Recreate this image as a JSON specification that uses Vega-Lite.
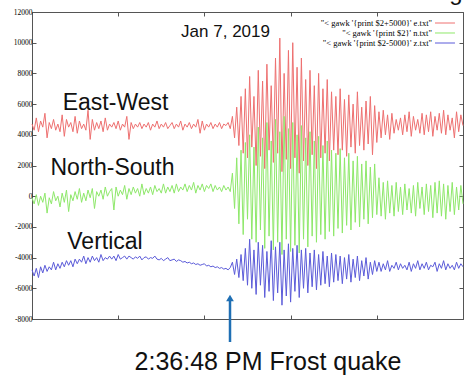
{
  "$schema": "https://vega.github.io/schema/vega-lite/v6.json",
  "width": 431,
  "height": 307,
  "autosize": {"type": "none"},
  "padding": {"left": 32, "top": 12, "right": 11, "bottom": 66},
  "background": "white",
  "config": {
    "view": {"stroke": "#555555", "strokeWidth": 1},
    "axis": {"grid": false, "domain": false, "ticks": true, "tickSize": -4, "tickColor": "#555555", "labelFont": "Liberation Serif", "labelFontSize": 7.5, "labelColor": "#000000", "title": null}
  },
  "data": {"values": [
    {"t":0,"e":4700,"n":-100,"z":-4800},
    {"t":2.5,"e":4300,"n":-500,"z":-5200},
    {"t":5,"e":5100,"n":100,"z":-4700},
    {"t":7.5,"e":4200,"n":-600,"z":-5300},
    {"t":10,"e":4900,"n":0,"z":-4600},
    {"t":12.5,"e":4500,"n":-400,"z":-5000},
    {"t":15,"e":5400,"n":200,"z":-4500},
    {"t":17.5,"e":3800,"n":-1100,"z":-4900},
    {"t":20,"e":4800,"n":-100,"z":-4600},
    {"t":22.5,"e":4400,"n":-500,"z":-4800},
    {"t":25,"e":5000,"n":300,"z":-4300},
    {"t":27.5,"e":4300,"n":-300,"z":-4800},
    {"t":30,"e":4700,"n":0,"z":-4400},
    {"t":32.5,"e":4200,"n":-700,"z":-4700},
    {"t":35,"e":5300,"n":200,"z":-4300},
    {"t":37.5,"e":3900,"n":-400,"z":-4600},
    {"t":40,"e":5000,"n":400,"z":-4200},
    {"t":42.5,"e":4500,"n":-1000,"z":-4500},
    {"t":45,"e":4800,"n":100,"z":-4200},
    {"t":47.5,"e":4200,"n":-300,"z":-4600},
    {"t":50,"e":5200,"n":300,"z":-4100},
    {"t":52.5,"e":4100,"n":-200,"z":-4400},
    {"t":55,"e":4900,"n":500,"z":-4100},
    {"t":57.5,"e":4400,"n":-400,"z":-4300},
    {"t":60,"e":4700,"n":200,"z":-3900},
    {"t":62.5,"e":4300,"n":-300,"z":-4400},
    {"t":65,"e":5600,"n":400,"z":-4000},
    {"t":67.5,"e":3700,"n":-100,"z":-4300},
    {"t":70,"e":5000,"n":500,"z":-3900},
    {"t":72.5,"e":4300,"n":-800,"z":-4200},
    {"t":75,"e":4800,"n":300,"z":-4000},
    {"t":77.5,"e":4400,"n":0,"z":-4300},
    {"t":80,"e":4900,"n":400,"z":-3800},
    {"t":82.5,"e":4200,"n":-200,"z":-4200},
    {"t":85,"e":5100,"n":600,"z":-4000},
    {"t":87.5,"e":4300,"n":0,"z":-4100},
    {"t":90,"e":4700,"n":300,"z":-3900},
    {"t":92.5,"e":4500,"n":500,"z":-4100},
    {"t":95,"e":4800,"n":-900,"z":-3900},
    {"t":97.5,"e":4400,"n":600,"z":-4200},
    {"t":100,"e":4900,"n":0,"z":-3800},
    {"t":102.5,"e":4300,"n":400,"z":-4100},
    {"t":105,"e":4700,"n":100,"z":-4000},
    {"t":107.5,"e":4500,"n":700,"z":-3900},
    {"t":110,"e":5200,"n":-200,"z":-4100},
    {"t":112.5,"e":3700,"n":500,"z":-3900},
    {"t":115,"e":4800,"n":100,"z":-4000},
    {"t":117.5,"e":4400,"n":600,"z":-4100},
    {"t":120,"e":4700,"n":200,"z":-3950},
    {"t":122.5,"e":4500,"n":500,"z":-4050},
    {"t":125,"e":4800,"n":0,"z":-3900},
    {"t":127.5,"e":4400,"n":800,"z":-4150},
    {"t":130,"e":4700,"n":100,"z":-4000},
    {"t":132.5,"e":4500,"n":500,"z":-3950},
    {"t":135,"e":4800,"n":200,"z":-4100},
    {"t":137.5,"e":4300,"n":600,"z":-4000},
    {"t":140,"e":4700,"n":100,"z":-4050},
    {"t":142.5,"e":4500,"n":700,"z":-3900},
    {"t":145,"e":4900,"n":300,"z":-4100},
    {"t":147.5,"e":4400,"n":500,"z":-4150},
    {"t":150,"e":4700,"n":200,"z":-4050},
    {"t":152.5,"e":4500,"n":800,"z":-4200},
    {"t":155,"e":4800,"n":200,"z":-4100},
    {"t":157.5,"e":4400,"n":600,"z":-4000},
    {"t":160,"e":4600,"n":300,"z":-4200},
    {"t":162.5,"e":4800,"n":700,"z":-4150},
    {"t":165,"e":4400,"n":200,"z":-4100},
    {"t":167.5,"e":4700,"n":800,"z":-4250},
    {"t":170,"e":4500,"n":300,"z":-4150},
    {"t":172.5,"e":4900,"n":600,"z":-4200},
    {"t":175,"e":4300,"n":400,"z":-4300},
    {"t":177.5,"e":4700,"n":800,"z":-4250},
    {"t":180,"e":4500,"n":300,"z":-4350},
    {"t":182.5,"e":4800,"n":700,"z":-4300},
    {"t":185,"e":4400,"n":400,"z":-4400},
    {"t":187.5,"e":4700,"n":900,"z":-4350},
    {"t":190,"e":4500,"n":200,"z":-4450},
    {"t":192.5,"e":5000,"n":700,"z":-4400},
    {"t":195,"e":4100,"n":400,"z":-4500},
    {"t":197.5,"e":4900,"n":800,"z":-4450},
    {"t":200,"e":4300,"n":300,"z":-4400},
    {"t":202.5,"e":4700,"n":700,"z":-4550},
    {"t":205,"e":4500,"n":500,"z":-4500},
    {"t":207.5,"e":4800,"n":800,"z":-4600},
    {"t":210,"e":4400,"n":300,"z":-4550},
    {"t":212.5,"e":4700,"n":700,"z":-4650},
    {"t":215,"e":4500,"n":400,"z":-4600},
    {"t":217.5,"e":4800,"n":600,"z":-4700},
    {"t":220,"e":4400,"n":300,"z":-4650},
    {"t":222.5,"e":4700,"n":700,"z":-4750},
    {"t":225,"e":4600,"n":400,"z":-4700},
    {"t":227.5,"e":4800,"n":600,"z":-4800},
    {"t":230,"e":4400,"n":300,"z":-4650},
    {"t":232.5,"e":5200,"n":1500,"z":-4300},
    {"t":235,"e":3800,"n":-800,"z":-5100},
    {"t":237.5,"e":5800,"n":2500,"z":-4100},
    {"t":240,"e":3300,"n":-1800,"z":-5300},
    {"t":242.5,"e":6500,"n":3000,"z":-3800},
    {"t":245,"e":2800,"n":-2500,"z":-5500},
    {"t":247.5,"e":7000,"n":3500,"z":-3400},
    {"t":250,"e":2500,"n":-1500,"z":-5800},
    {"t":252.5,"e":7800,"n":4000,"z":-2800},
    {"t":255,"e":3200,"n":-2800,"z":-6000},
    {"t":257.5,"e":6500,"n":3200,"z":-3500},
    {"t":260,"e":2000,"n":-3000,"z":-6400},
    {"t":262.5,"e":8200,"n":4500,"z":-3000},
    {"t":265,"e":2600,"n":-2200,"z":-5800},
    {"t":267.5,"e":7500,"n":3800,"z":-3200},
    {"t":270,"e":1800,"n":-3400,"z":-6600},
    {"t":272.5,"e":8600,"n":4800,"z":-3600},
    {"t":275,"e":3000,"n":-2600,"z":-6200},
    {"t":277.5,"e":7200,"n":3600,"z":-2900},
    {"t":280,"e":2200,"n":-3500,"z":-6800},
    {"t":282.5,"e":9000,"n":5000,"z":-3300},
    {"t":285,"e":2800,"n":-3000,"z":-6300},
    {"t":287.5,"e":10300,"n":4200,"z":-3000},
    {"t":290,"e":1600,"n":-3800,"z":-7100},
    {"t":292.5,"e":8000,"n":5200,"z":-3500},
    {"t":295,"e":2400,"n":-2800,"z":-6500},
    {"t":297.5,"e":9500,"n":4400,"z":-3100},
    {"t":300,"e":1800,"n":-3600,"z":-6900},
    {"t":302.5,"e":10000,"n":4800,"z":-3400},
    {"t":305,"e":2500,"n":-3200,"z":-6200},
    {"t":307.5,"e":8400,"n":4000,"z":-3200},
    {"t":310,"e":1500,"n":-3700,"z":-6600},
    {"t":312.5,"e":9000,"n":4600,"z":-3500},
    {"t":315,"e":2300,"n":-2800,"z":-6000},
    {"t":317.5,"e":7600,"n":3800,"z":-3400},
    {"t":320,"e":2000,"n":-3300,"z":-6300},
    {"t":322.5,"e":8200,"n":4200,"z":-3700},
    {"t":325,"e":2700,"n":-2600,"z":-5900},
    {"t":327.5,"e":7200,"n":3600,"z":-3500},
    {"t":330,"e":1800,"n":-3000,"z":-6100},
    {"t":332.5,"e":8000,"n":3900,"z":-3800},
    {"t":335,"e":2500,"n":-2500,"z":-5800},
    {"t":337.5,"e":7000,"n":3300,"z":-3600},
    {"t":340,"e":2800,"n":-2800,"z":-5700},
    {"t":342.5,"e":7600,"n":3600,"z":-3900},
    {"t":345,"e":2300,"n":-2300,"z":-5900},
    {"t":347.5,"e":6800,"n":3000,"z":-3700},
    {"t":350,"e":3000,"n":-2600,"z":-5600},
    {"t":352.5,"e":6500,"n":2800,"z":-3800},
    {"t":355,"e":2700,"n":-2100,"z":-5500},
    {"t":357.5,"e":7000,"n":3100,"z":-3900},
    {"t":360,"e":3000,"n":-2400,"z":-5700},
    {"t":362.5,"e":6300,"n":2500,"z":-4000},
    {"t":365,"e":2600,"n":-1900,"z":-5400},
    {"t":367.5,"e":6600,"n":2800,"z":-3800},
    {"t":370,"e":3200,"n":-2200,"z":-5600},
    {"t":372.5,"e":6000,"n":2300,"z":-4100},
    {"t":375,"e":2800,"n":-1700,"z":-5300},
    {"t":377.5,"e":6800,"n":2600,"z":-3900},
    {"t":380,"e":3300,"n":-2000,"z":-5500},
    {"t":382.5,"e":5800,"n":2100,"z":-4200},
    {"t":385,"e":3000,"n":-1500,"z":-5200},
    {"t":387.5,"e":6200,"n":2300,"z":-4000},
    {"t":390,"e":3400,"n":-1800,"z":-5400},
    {"t":392.5,"e":6500,"n":1900,"z":-4300},
    {"t":395,"e":2700,"n":-1400,"z":-5100},
    {"t":397.5,"e":5900,"n":2100,"z":-4200},
    {"t":400,"e":3500,"n":-1200,"z":-4900},
    {"t":402.5,"e":5500,"n":1200,"z":-4300},
    {"t":405,"e":3800,"n":-1300,"z":-4900},
    {"t":407.5,"e":5600,"n":900,"z":-4400},
    {"t":410,"e":4000,"n":-1500,"z":-4800},
    {"t":412.5,"e":5300,"n":1000,"z":-4200},
    {"t":415,"e":3700,"n":-1100,"z":-4900},
    {"t":417.5,"e":5400,"n":700,"z":-4500},
    {"t":420,"e":4100,"n":-1300,"z":-4700},
    {"t":422.5,"e":5000,"n":900,"z":-4300},
    {"t":425,"e":4300,"n":-1000,"z":-4800},
    {"t":427.5,"e":5100,"n":600,"z":-4400},
    {"t":430,"e":4000,"n":-1200,"z":-4700},
    {"t":432.5,"e":5300,"n":800,"z":-4500},
    {"t":435,"e":4200,"n":-900,"z":-4800},
    {"t":437.5,"e":5500,"n":500,"z":-4300},
    {"t":440,"e":3900,"n":-1100,"z":-4900},
    {"t":442.5,"e":5200,"n":700,"z":-4400},
    {"t":445,"e":4300,"n":-1300,"z":-4700},
    {"t":447.5,"e":5000,"n":900,"z":-4200},
    {"t":450,"e":4100,"n":-800,"z":-4800},
    {"t":452.5,"e":5400,"n":600,"z":-4400},
    {"t":455,"e":4000,"n":-1200,"z":-4700},
    {"t":457.5,"e":5300,"n":800,"z":-4300},
    {"t":460,"e":4200,"n":-1000,"z":-4800},
    {"t":462.5,"e":5500,"n":700,"z":-4500},
    {"t":465,"e":3900,"n":-1400,"z":-4600},
    {"t":467.5,"e":5200,"n":900,"z":-4300},
    {"t":470,"e":4300,"n":-1100,"z":-4900},
    {"t":472.5,"e":5400,"n":1000,"z":-4400},
    {"t":475,"e":4100,"n":-1300,"z":-4700},
    {"t":477.5,"e":5600,"n":800,"z":-4200},
    {"t":480,"e":4000,"n":-1500,"z":-4800},
    {"t":482.5,"e":5300,"n":700,"z":-4400},
    {"t":485,"e":4300,"n":-1000,"z":-4700},
    {"t":487.5,"e":5100,"n":900,"z":-4500},
    {"t":490,"e":3800,"n":-1200,"z":-4800},
    {"t":492.5,"e":5500,"n":600,"z":-4300},
    {"t":495,"e":4200,"n":-900,"z":-4700},
    {"t":497.5,"e":5300,"n":700,"z":-4400},
    {"t":500,"e":4600,"n":-500,"z":-4600}
  ]},
  "layer": [
    {
      "mark": {"type": "line", "strokeWidth": 1, "interpolate": "linear"},
      "encoding": {
        "x": {"field": "t", "type": "quantitative", "scale": {"domain": [0, 500], "nice": false, "zero": false}, "axis": {"orient": "bottom", "values": [0, 100, 200, 300, 400, 500], "labels": false}},
        "y": {"field": "e", "type": "quantitative", "scale": {"domain": [-8000, 12000], "nice": false, "zero": false}, "axis": {"orient": "left", "values": [-8000, -6000, -4000, -2000, 0, 2000, 4000, 6000, 8000, 10000, 12000], "labelExpr": "'' + datum.value", "labelPadding": 4, "labelColor": "#000000", "labelFont": "Liberation Serif", "labelFontSize": 7.5}},
        "color": {
          "datum": "\"< gawk '{print $2+5000}' e.txt\"",
          "type": "nominal",
          "scale": {"domain": ["\"< gawk '{print $2+5000}' e.txt\"", "\"< gawk '{print $2}' n.txt\"", "\"< gawk '{print $2-5000}' z.txt\""], "range": ["#ee7070", "#8ee86a", "#5b5bd9"]},
          "legend": null
        }
      }
    },
    {
      "mark": {"type": "line", "strokeWidth": 1},
      "encoding": {
        "x": {"field": "t", "type": "quantitative", "axis": {"orient": "top", "values": [0, 100, 200, 300, 400, 500], "labels": false}},
        "y": {"field": "n", "type": "quantitative", "axis": {"orient": "right", "values": [-8000, -6000, -4000, -2000, 0, 2000, 4000, 6000, 8000, 10000, 12000], "labels": false}},
        "color": {"datum": "\"< gawk '{print $2}' n.txt\"", "type": "nominal", "legend": null}
      }
    },
    {
      "mark": {"type": "line", "strokeWidth": 1},
      "encoding": {
        "x": {"field": "t", "type": "quantitative", "axis": null},
        "y": {"field": "z", "type": "quantitative", "axis": null},
        "color": {"datum": "\"< gawk '{print $2-5000}' z.txt\"", "type": "nominal", "legend": null}
      }
    },
    {
      "data": {"values": [{}]},
      "mark": {"type": "text", "text": "\"< gawk '{print $2+5000}' e.txt\"", "font": "Liberation Serif", "fontSize": 8.5, "align": "right", "baseline": "middle", "color": "#000000"},
      "encoding": {"x": {"datum": 464, "type": "quantitative", "axis": null}, "y": {"datum": 11283, "type": "quantitative", "axis": null}}
    },
    {
      "data": {"values": [{}]},
      "mark": {"type": "text", "text": "\"< gawk '{print $2}' n.txt\"", "font": "Liberation Serif", "fontSize": 8.5, "align": "right", "baseline": "middle", "color": "#000000"},
      "encoding": {"x": {"datum": 464, "type": "quantitative", "axis": null}, "y": {"datum": 10632, "type": "quantitative", "axis": null}}
    },
    {
      "data": {"values": [{}]},
      "mark": {"type": "text", "text": "\"< gawk '{print $2-5000}' z.txt\"", "font": "Liberation Serif", "fontSize": 8.5, "align": "right", "baseline": "middle", "color": "#000000"},
      "encoding": {"x": {"datum": 464, "type": "quantitative", "axis": null}, "y": {"datum": 9980, "type": "quantitative", "axis": null}}
    },
    {
      "data": {"values": [{}]},
      "mark": {"type": "rule", "strokeWidth": 1},
      "encoding": {"x": {"datum": 467.5, "type": "quantitative", "axis": null}, "x2": {"datum": 490.7}, "y": {"datum": 11283, "type": "quantitative", "axis": null}, "color": {"datum": "\"< gawk '{print $2+5000}' e.txt\"", "type": "nominal", "legend": null}}
    },
    {
      "data": {"values": [{}]},
      "mark": {"type": "rule", "strokeWidth": 1},
      "encoding": {"x": {"datum": 467.5, "type": "quantitative", "axis": null}, "x2": {"datum": 490.7}, "y": {"datum": 10632, "type": "quantitative", "axis": null}, "color": {"datum": "\"< gawk '{print $2}' n.txt\"", "type": "nominal", "legend": null}}
    },
    {
      "data": {"values": [{}]},
      "mark": {"type": "rule", "strokeWidth": 1},
      "encoding": {"x": {"datum": 467.5, "type": "quantitative", "axis": null}, "x2": {"datum": 490.7}, "y": {"datum": 9980, "type": "quantitative", "axis": null}, "color": {"datum": "\"< gawk '{print $2-5000}' z.txt\"", "type": "nominal", "legend": null}}
    },
    {
      "data": {"values": [{}]},
      "mark": {"type": "text", "text": "East-West", "font": "Liberation Sans", "fontSize": 23, "align": "center", "baseline": "alphabetic", "color": "#111111"},
      "encoding": {"x": {"datum": 96.9, "type": "quantitative", "axis": null}, "y": {"datum": 5616, "type": "quantitative", "axis": null}}
    },
    {
      "data": {"values": [{}]},
      "mark": {"type": "text", "text": "North-South", "font": "Liberation Sans", "fontSize": 23, "align": "center", "baseline": "alphabetic", "color": "#111111"},
      "encoding": {"x": {"datum": 93.4, "type": "quantitative", "axis": null}, "y": {"datum": 1381, "type": "quantitative", "axis": null}}
    },
    {
      "data": {"values": [{}]},
      "mark": {"type": "text", "text": "Vertical", "font": "Liberation Sans", "fontSize": 23, "align": "center", "baseline": "alphabetic", "color": "#111111"},
      "encoding": {"x": {"datum": 84.7, "type": "quantitative", "axis": null}, "y": {"datum": -3440, "type": "quantitative", "axis": null}}
    },
    {
      "data": {"values": [{}]},
      "mark": {"type": "text", "text": "Jan 7, 2019", "font": "Liberation Sans", "fontSize": 17, "align": "center", "baseline": "alphabetic", "color": "#111111"},
      "encoding": {"x": {"datum": 224.5, "type": "quantitative", "axis": null}, "y": {"datum": 10371, "type": "quantitative", "axis": null}}
    },
    {
      "data": {"values": [{}]},
      "mark": {"type": "text", "text": "2:36:48 PM Frost quake", "font": "Liberation Sans", "fontSize": 25, "align": "center", "baseline": "alphabetic", "color": "#111111"},
      "encoding": {"x": {"datum": 273.8, "type": "quantitative", "axis": null}, "y": {"datum": -11323, "type": "quantitative", "axis": null}}
    },
    {
      "data": {"values": [{}]},
      "mark": {"type": "text", "text": "g", "font": "Liberation Sans", "fontSize": 24, "align": "center", "baseline": "alphabetic", "color": "#111111"},
      "encoding": {"x": {"datum": 491.9, "type": "quantitative", "axis": null}, "y": {"datum": 12782, "type": "quantitative", "axis": null}}
    },
    {
      "data": {"values": [{}]},
      "mark": {"type": "rule", "color": "#1f6fb4", "strokeWidth": 2.5},
      "encoding": {"x": {"datum": 229.7, "type": "quantitative", "axis": null}, "y": {"datum": -6800, "type": "quantitative", "axis": null}, "y2": {"datum": -9500}}
    },
    {
      "data": {"values": [{}]},
      "mark": {"type": "point", "shape": "triangle-up", "filled": true, "color": "#1f6fb4", "size": 60, "opacity": 1},
      "encoding": {"x": {"datum": 229.7, "type": "quantitative", "axis": null}, "y": {"datum": -6632, "type": "quantitative", "axis": null}}
    }
  ],
  "resolve": {"axis": {"x": "independent", "y": "independent"}}
}
